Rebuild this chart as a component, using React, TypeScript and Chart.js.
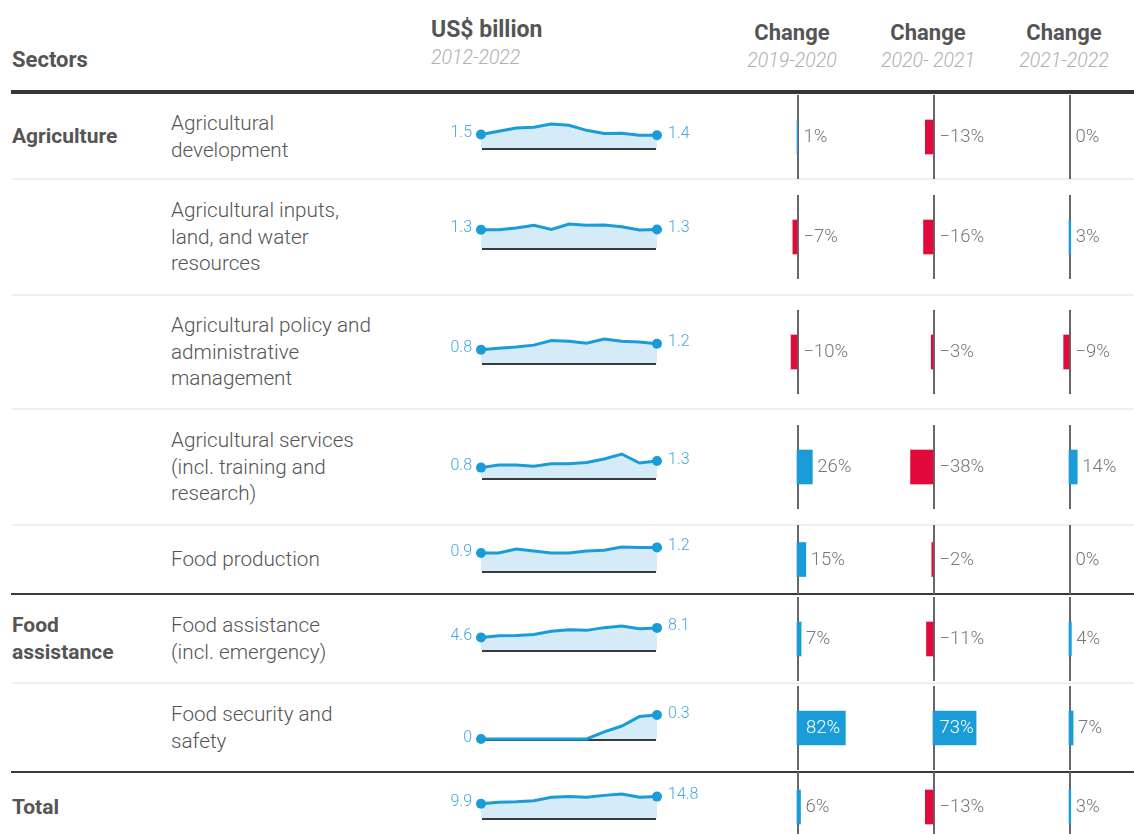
import React, { useEffect, useRef } from "react";
import { Chart, registerables } from "chart.js";

Chart.register(...registerables);

// ---------- data ----------
const years = ["2012", "2013", "2014", "2015", "2016", "2017", "2018", "2019", "2020", "2021", "2022"];

const groups = ["Agriculture", "", "", "", "", "Food\nassistance", "", "Total"];

const sectors = [
  "Agricultural\ndevelopment",
  "Agricultural inputs,\nland, and water\nresources",
  "Agricultural policy and\nadministrative\nmanagement",
  "Agricultural services\n(incl. training and\nresearch)",
  "Food production",
  "Food assistance\n(incl. emergency)",
  "Food security and\nsafety",
  "",
];

// US$ billion, 2012-2022
const agDevelopment = [1.5, 1.85, 2.2, 2.3, 2.65, 2.5, 1.95, 1.6, 1.62, 1.41, 1.41];
const agInputs = [1.3, 1.3, 1.42, 1.62, 1.32, 1.71, 1.62, 1.63, 1.52, 1.28, 1.32];
const agPolicy = [0.8, 0.89, 0.97, 1.08, 1.36, 1.31, 1.19, 1.45, 1.31, 1.27, 1.16];
const agServices = [0.8, 1.0, 1.0, 0.9, 1.1, 1.1, 1.2, 1.47, 1.85, 1.15, 1.31];
const foodProduction = [0.9, 0.9, 1.1, 1.0, 0.9, 0.9, 1.0, 1.04, 1.2, 1.18, 1.18];
const foodAssistance = [4.6, 5.2, 5.3, 5.7, 6.9, 7.4, 7.2, 8.2, 8.8, 7.8, 8.1];
const foodSecurity = [0, 0, 0, 0, 0, 0, 0, 0.09, 0.165, 0.285, 0.305];
const totalSeries = [9.9, 10.9, 11.3, 12.0, 14.4, 14.8, 14.4, 15.65, 16.6, 14.4, 14.8];

const series = [agDevelopment, agInputs, agPolicy, agServices, foodProduction, foodAssistance, foodSecurity, totalSeries];

// % change
const change2019_2020 = [1, -7, -10, 26, 15, 7, 82, 6];
const change2020_2021 = [-13, -16, -3, -38, -2, -11, 73, -13];
const change2021_2022 = [0, 3, -9, 14, 0, 4, 7, 3];
const changes = [change2019_2020, change2020_2021, change2021_2022];

const changeTitles = ["Change", "Change", "Change"];
const changePeriods = ["2019-2020", "2020- 2021", "2021-2022"];

// ---------- style / layout ----------
const BLUE = "#1a9cd9";
const RED = "#e2093b";
const FILL = "#d6ebf8";
const LABEL_BLUE = "#46a9df";
const TEXT = "#555555";
const SUB = "#b0b0b0";
const ROW_EDGES = [94, 179, 294.5, 409, 525, 594, 683, 772, 842];
const ZERO_X = [797, 933, 1069];
const COL_CENTERS = [792, 928, 1064];
const BAR_W = 136;
const BAR_ZERO_OFF = 35;
const X_MIN = -59.3;
const X_MAX = 171.2;
const SPARK_LEFT = 440;
const SPARK_W = 260;
const SPARK_H = 52;
const SPARK_PAD_TOP = 20;

const fmt = (v: number) => (v === 0 ? "0" : v.toFixed(1));

export default function App() {
  const sparkRefs = useRef<(HTMLCanvasElement | null)[]>([]);
  const barRefs = useRef<(HTMLCanvasElement | null)[]>([]);

  useEffect(() => {
    document.body.style.margin = "0";
    const charts: Chart[] = [];

    series.forEach((data, r) => {
      const cv = sparkRefs.current[r];
      if (!cv) return;
      const last = data.length - 1;
      const sparkPlugin = {
        id: "spark" + r,
        beforeDatasetsDraw(chart: any) {
          const { ctx, chartArea } = chart;
          ctx.save();
          ctx.fillStyle = "#3a3a3a";
          ctx.fillRect(chartArea.left + 1, chartArea.bottom - 0.5, chartArea.right - chartArea.left - 2, 2.5);
          ctx.restore();
        },
        afterDatasetsDraw(chart: any) {
          const { ctx, chartArea } = chart;
          const ys = chart.scales.y;
          ctx.save();
          ctx.font = "300 16px Roboto";
          ctx.fillStyle = LABEL_BLUE;
          ctx.textBaseline = "middle";
          ctx.textAlign = "right";
          ctx.fillText(fmt(data[0]), chartArea.left - 9, ys.getPixelForValue(data[0]) - 1.5);
          ctx.textAlign = "left";
          ctx.fillText(fmt(data[last]), chartArea.right + 11, ys.getPixelForValue(data[last]) - 1.5);
          ctx.restore();
        },
      };
      charts.push(
        new Chart(cv, {
          type: "line",
          data: {
            labels: years,
            datasets: [
              {
                data,
                borderColor: BLUE,
                borderWidth: 3,
                backgroundColor: FILL,
                fill: "origin",
                tension: 0,
                pointRadius: (c: any) => (c.dataIndex === 0 || c.dataIndex === last ? 5 : 0),
                pointBackgroundColor: BLUE,
                pointBorderWidth: 0,
                pointHoverRadius: 0,
                clip: false as any,
              },
            ],
          },
          options: {
            responsive: false,
            animation: false,
            events: [],
            layout: { padding: { left: 41, right: SPARK_W - 41 - 176, top: SPARK_PAD_TOP, bottom: 8 } },
            plugins: { legend: { display: false }, tooltip: { enabled: false } },
            scales: {
              x: { display: false, offset: false },
              y: { display: false, min: 0, max: Math.max(...data) },
            },
          },
          plugins: [sparkPlugin],
        } as any)
      );
    });

    changes.forEach((col, c) => {
      col.forEach((v, r) => {
        const cv = barRefs.current[c * 8 + r];
        if (!cv) return;
        const barPlugin = {
          id: "bar" + c + "_" + r,
          beforeDatasetsDraw(chart: any) {
            const { ctx } = chart;
            const xs = chart.scales.x;
            const x0 = xs.getPixelForValue(0);
            ctx.save();
            ctx.fillStyle = "#676767";
            ctx.fillRect(Math.round(x0), 0, 2, chart.height);
            ctx.restore();
          },
          afterDatasetsDraw(chart: any) {
            const { ctx } = chart;
            const xs = chart.scales.x;
            const x0 = xs.getPixelForValue(0);
            const xv = xs.getPixelForValue(v);
            const h = chart.height;
            ctx.save();
            const txt = (v < 0 ? "\u2212" : "") + Math.abs(v) + "%";
            ctx.font = "300 18.5px Roboto";
            ctx.textBaseline = "middle";
            if (Math.abs(xv - x0) > 36) {
              ctx.fillStyle = "#ffffff";
              ctx.textAlign = "center";
              ctx.fillText(txt, (x0 + xv) / 2 + 2, h / 2 + 0.5);
            } else {
              ctx.fillStyle = "#777777";
              ctx.textAlign = "left";
              ctx.fillText(txt, Math.max(x0 + 1.5, xv) + 5, h / 2 + 0.5);
            }
            ctx.restore();
          },
        };
        charts.push(
          new Chart(cv, {
            type: "bar",
            data: {
              labels: [""],
              datasets: [
                {
                  data: [v],
                  backgroundColor: v > 0 ? BLUE : v < 0 ? RED : "rgba(0,0,0,0)",
                  barThickness: 34,
                  borderWidth: 0,
                },
              ],
            },
            options: {
              indexAxis: "y",
              responsive: false,
              animation: false,
              events: [],
              layout: { padding: 0 },
              plugins: { legend: { display: false }, tooltip: { enabled: false } },
              scales: {
                x: { display: false, min: X_MIN, max: X_MAX },
                y: { display: false },
              },
            },
            plugins: [barPlugin],
          } as any)
        );
      });
    });

    return () => charts.forEach((ch) => ch.destroy());
  }, []);

  const rows = sectors.map((_, r) => {
    const top = ROW_EDGES[r];
    const height = ROW_EDGES[r + 1] - ROW_EDGES[r];
    return { top, height, center: top + height / 2 };
  });

  const abs = (s: React.CSSProperties): React.CSSProperties => ({ position: "absolute", ...s });

  return (
    <div
      style={{
        position: "absolute",
        left: 0,
        top: 0,
        width: 1134,
        height: 834,
        overflow: "hidden",
        background: "#fff",
        fontFamily: "Roboto, 'Noto Sans', sans-serif",
        color: TEXT,
      }}
    >
      {/* header */}
      <div style={abs({ left: 12, top: 47, fontSize: 22, lineHeight: "26px", fontWeight: 700 })}>Sectors</div>
      <div style={abs({ left: 431, top: 16, fontSize: 23, lineHeight: "28px", fontWeight: 700 })}>US$ billion</div>
      <div style={abs({ left: 431, top: 46, fontSize: 19.5, lineHeight: "24px", fontWeight: 300, fontStyle: "italic", color: SUB })}>
        {years[0] + "-" + years[years.length - 1]}
      </div>
      {changeTitles.map((t, c) => (
        <React.Fragment key={"h" + c}>
          <div style={abs({ left: COL_CENTERS[c] - 100, width: 200, textAlign: "center", top: 19, fontSize: 22, lineHeight: "28px", fontWeight: 700 })}>
            {t}
          </div>
          <div
            style={abs({
              left: COL_CENTERS[c] - 100,
              width: 200,
              textAlign: "center",
              top: 49,
              fontSize: 19.5,
              lineHeight: "24px",
              fontWeight: 300,
              fontStyle: "italic",
              color: SUB,
              whiteSpace: "pre",
            })}
          >
            {changePeriods[c]}
          </div>
        </React.Fragment>
      ))}

      {/* rules */}
      <div style={abs({ left: 11, right: 0, top: 90, height: 4, background: "#393534" })} />
      {[1, 2, 3, 4, 6].map((i) => (
        <div key={"l" + i} style={abs({ left: 12, right: 0, top: ROW_EDGES[i] - 1, height: 2, background: "#f0f0f0" })} />
      ))}
      {[5, 7].map((i) => (
        <div key={"d" + i} style={abs({ left: 11, right: 0, top: ROW_EDGES[i] - 1, height: 2, background: "#3d3a39" })} />
      ))}

      {/* row texts */}
      {rows.map((row, r) => (
        <React.Fragment key={"t" + r}>
          <div
            style={abs({
              left: 12,
              top: row.top,
              height: row.height,
              display: "flex",
              alignItems: "center",
              whiteSpace: "pre-line",
              fontSize: 21,
              lineHeight: "26.7px",
              fontWeight: 700,
            })}
          >
            {groups[r]}
          </div>
          <div
            style={abs({
              left: 171,
              top: row.top,
              height: row.height,
              display: "flex",
              alignItems: "center",
              whiteSpace: "pre-line",
              fontSize: 20.7,
              lineHeight: "26.5px",
              fontWeight: 300,
            })}
          >
            {sectors[r]}
          </div>
        </React.Fragment>
      ))}

      {/* sparklines */}
      {rows.map((row, r) => (
        <canvas
          key={"s" + r}
          ref={(el) => {
            sparkRefs.current[r] = el;
          }}
          width={SPARK_W}
          height={SPARK_H}
          style={abs({
            left: SPARK_LEFT,
            top: Math.round(row.center + 12) - (SPARK_PAD_TOP + 25),
            width: SPARK_W,
            height: SPARK_H,
          })}
        />
      ))}

      {/* change bars */}
      {changes.map((col, c) =>
        col.map((_, r) => {
          const row = rows[r];
          const h = Math.min(84, Math.round(row.height));
          return (
            <canvas
              key={"b" + c + "_" + r}
              ref={(el) => {
                barRefs.current[c * 8 + r] = el;
              }}
              width={BAR_W}
              height={h}
              style={abs({ left: ZERO_X[c] - BAR_ZERO_OFF, top: Math.round(row.center - h / 2), width: BAR_W, height: h })}
            />
          );
        })
      )}
    </div>
  );
}
